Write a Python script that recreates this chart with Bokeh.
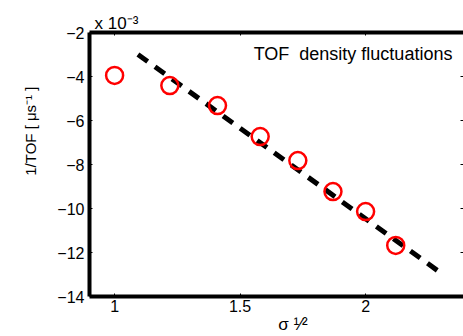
from bokeh.plotting import figure
from bokeh.models import LinearAxis, Label, FixedTicker, Range1d
from bokeh.embed import file_html
from bokeh.resources import INLINE

# data
sigma_sqrt = [1.0, 1.22, 1.41, 1.58, 1.73, 1.87, 2.0, 2.12]
inv_tof = [-3.95, -4.41, -5.32, -6.73, -7.82, -9.23, -10.14, -11.68]
fit_x = [1.093, 2.296]
fit_y = [-3.0, -12.9]
xticks = [1, 1.5, 2]
xtick_labels = ["1", "1.5", "2"]
yticks = [-14, -12, -10, -8, -6, -4, -2]
ytick_labels = ["\u221214", "\u221212", "\u221210", "\u22128", "\u22126", "\u22124", "\u22122"]

FONT = "Liberation Sans"
NB = "\u00a0"

p = figure(width=463, height=336, output_backend="svg", toolbar_location=None,
           x_range=Range1d(0.9, 2.39), y_range=Range1d(-14, -2),
           min_border_left=89, min_border_top=32, min_border_bottom=40, min_border_right=0)
p.outline_line_color = None
p.grid.visible = False
p.background_fill_color = "white"
p.border_fill_color = "white"

def style_axis(ax, ticks, labels=None, show_labels=True):
    ax.ticker = FixedTicker(ticks=ticks)
    ax.axis_line_width = 4
    ax.axis_line_color = "black"
    ax.major_tick_in = 3
    ax.major_tick_out = 0
    ax.major_tick_line_width = 1
    ax.minor_tick_line_color = None
    if show_labels:
        ax.major_label_text_font = FONT
        ax.major_label_text_font_size = "16px"
        ax.major_label_text_color = "black"
        ax.major_label_standoff = 5
        if labels is not None:
            ax.major_label_overrides = {t: l for t, l in zip(ticks, labels)}
    else:
        ax.major_label_text_font_size = "0px"
        ax.major_label_standoff = 0

xa = p.xaxis[0]
ya = p.yaxis[0]
style_axis(xa, xticks, xtick_labels)
style_axis(ya, yticks, ytick_labels)
xa.major_label_standoff = 3

top = LinearAxis()
style_axis(top, xticks, show_labels=False)
p.add_layout(top, "above")
right = LinearAxis()
style_axis(right, yticks, show_labels=False)
right.axis_line_color = None
p.add_layout(right, "right")

p.line(fit_x, fit_y, line_color="black", line_width=5, line_dash="12 9")
p.scatter(sigma_sqrt, inv_tof, marker="circle", size=17, fill_color=None,
          line_color="#ff0000", line_width=2.5)

# y label (leading no-break spaces move the visible text upward)
ya.axis_label = NB * 16 + "1/TOF [ \u03bcs\u207b\u00b9 ]"
ya.axis_label_text_font = FONT
ya.axis_label_text_font_style = "normal"
ya.axis_label_text_font_size = "15px"
ya.axis_label_text_color = "black"
ya.axis_label_standoff = 15

# x label (bottom axis)
xa.axis_label = NB * 7 + "\u03c3 \u00b9\u2044\u00b2"
xa.axis_label_text_font = FONT
xa.axis_label_text_font_style = "normal"
xa.axis_label_text_font_size = "17px"
xa.axis_label_text_color = "black"
xa.axis_label_standoff = 0

# exponent as title
p.title.text = "x 10\u207b\u00b3"
p.title.align = "left"
p.title.text_font = FONT
p.title.text_font_size = "17px"
p.title.text_font_style = "normal"
p.title.text_color = "black"
p.title.standoff = 0
p.title.offset = -1
if "padding" in p.title.properties():
    p.title.padding = (6, 0, 0, 0)

p.add_layout(Label(x=1.554, y=-2.97, text="TOF" + NB + " density fluctuations",
                   text_font=FONT, text_font_size="18px", text_color="black",
                   text_baseline="alphabetic"))

open("out.html", "w").write(file_html(p, INLINE))
